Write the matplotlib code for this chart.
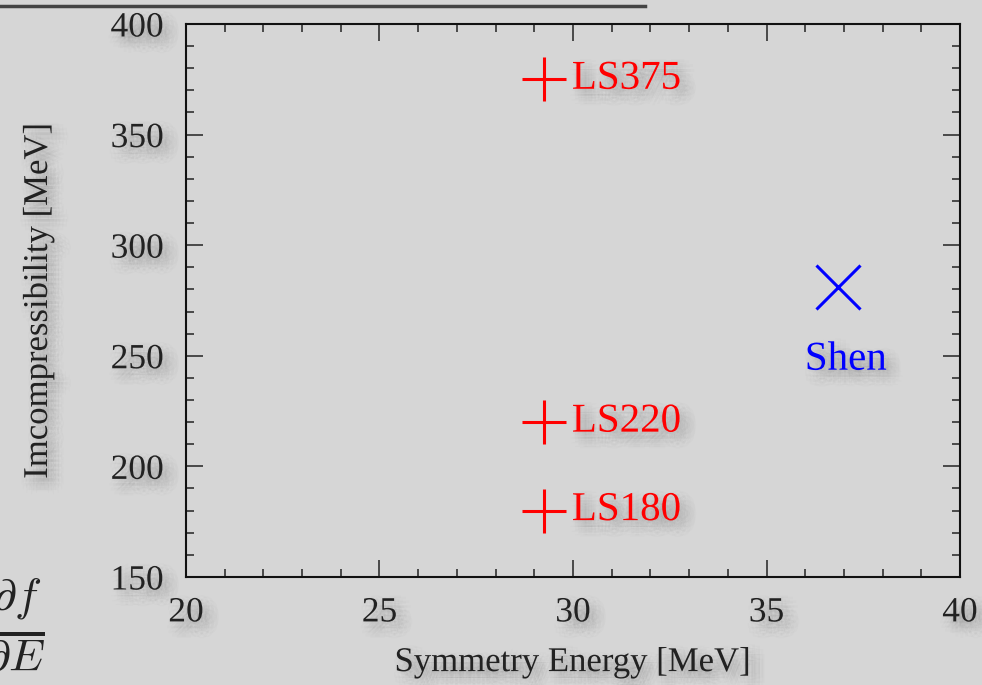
import numpy as np
import matplotlib
matplotlib.use("Agg")
import matplotlib.pyplot as plt
import matplotlib.patheffects as pe
from matplotlib.ticker import MultipleLocator

# data
ls_names = ["LS375", "LS220", "LS180"]
ls_sym = [29.25, 29.25, 29.25]
ls_incomp = [375, 220, 180]
shen_name = "Shen"
shen_sym = [36.85]
shen_incomp = [281]

plt.rcParams['font.family'] = ['Liberation Serif', 'DejaVu Serif']

bg = '#d6d6d6'
fig = plt.figure(figsize=(9.82, 6.85), dpi=100, facecolor=bg)
ax = fig.add_axes([0.1894, 0.1577, 0.7882, 0.8073])
ax.set_facecolor(bg)


def soft_shadow(dx=5, dy=-5, alpha=0.012):
    # cheap blurred drop shadow: rings of faint offset copies
    effs = []
    for r, n in [(7, 12), (4.5, 10), (2, 6), (0, 1)]:
        for k in range(n):
            a = 2 * np.pi * k / n
            effs.append(pe.SimplePatchShadow(offset=(dx + r * np.cos(a), dy + r * np.sin(a)),
                                             shadow_rgbFace='black', alpha=alpha))
    effs.append(pe.Normal())
    return effs


ax.plot(ls_sym, ls_incomp, linestyle='none', marker='+', markersize=32,
        markeredgewidth=2.2, color='red', clip_on=False)
ax.plot(shen_sym, shen_incomp, linestyle='none', marker='x', markersize=31,
        markeredgewidth=2.2, color='blue', clip_on=False)

for name, x, y in zip(ls_names, ls_sym, ls_incomp):
    ax.text(x + 0.72, y, name, color='red', fontsize=29.5, ha='left', va='center',
            path_effects=soft_shadow())
ax.text(shen_sym[0] + 0.2, 248, shen_name, color='blue', fontsize=29.5,
        ha='center', va='center', path_effects=soft_shadow())

ax.set_xlim(20, 40)
ax.set_ylim(150, 400)
ax.xaxis.set_major_locator(MultipleLocator(5))
ax.xaxis.set_minor_locator(MultipleLocator(1))
ax.yaxis.set_major_locator(MultipleLocator(50))
ax.yaxis.set_minor_locator(MultipleLocator(10))
ax.tick_params(which='both', direction='in', top=True, right=True, color='#222222')
ax.tick_params(which='major', length=12.5, width=1.1, labelsize=25.5, pad=14,
               labelcolor='#222222')
ax.tick_params(axis='y', which='major', pad=16)
ax.tick_params(which='minor', length=6, width=1.1)
for s in ax.spines.values():
    s.set_linewidth(1.5)
    s.set_color('#111111')

for lab in ax.get_xticklabels() + ax.get_yticklabels():
    lab.set_path_effects(soft_shadow())

ax.set_xlabel("Symmetry Energy [MeV]", fontsize=25, color='#222222', labelpad=12,
              path_effects=soft_shadow())
ax.set_ylabel("Imcompressibility [MeV]", fontsize=25, color='#222222', labelpad=40,
              path_effects=soft_shadow())

# leftovers from the neighbouring slide content
fig.add_artist(plt.Line2D([0, 645 / 982], [1 - 6 / 685, 1 - 6 / 685],
                          color='#444444', linewidth=2.5))
fig.text(0.046, 0.088, r'$\frac{\partial f}{\partial E}$', fontsize=47,
         math_fontfamily='cm', color='#222222', ha='right', va='center')

fig.savefig("out.png", dpi=100, facecolor=bg)
